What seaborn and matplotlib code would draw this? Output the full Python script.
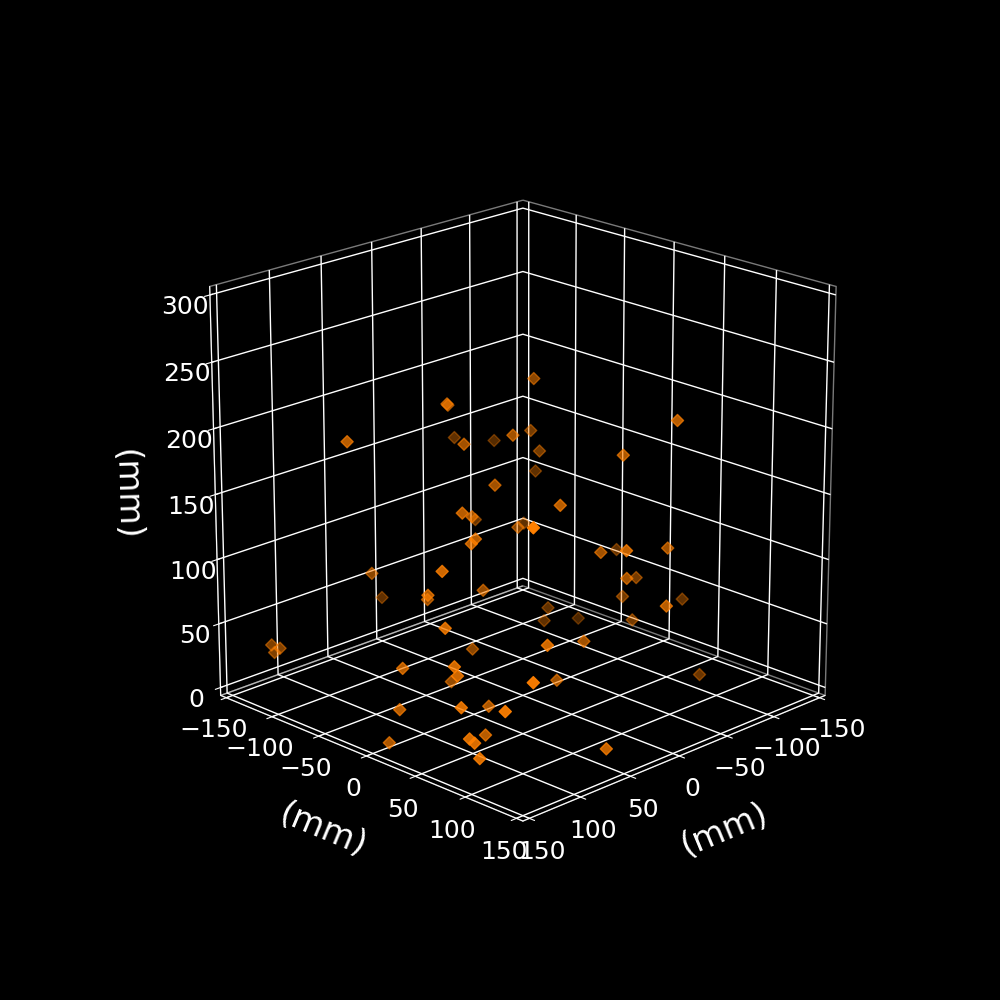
import matplotlib
matplotlib.use("Agg")
import matplotlib.pyplot as plt
import seaborn as sns

sns.set_style("dark")
plt.style.use("dark_background")
plt.rcParams["axes3d.automargin"] = True

# marker positions in mm
x_mm = [-20,51,28,129,-14,49,-46,23,-32,-33,-50,-38,-18,41,34,84,58,0,14,-35,119,82,85,-1,-78,20,-35,96,126,-9,-60,115,84,54,52,-50,-103,-1,-32,-28,-69,-51,134,23,87,58,148,148,148,136,140,136,86,133,43,-88,147,147,92,147,110,147,148,148,148,66]
y_mm = [-9,-25,-48,-45,-85,-10,-76,13,-24,-16,-37,115,82,13,71,24,7,-49,9,-34,129,35,34,77,19,122,110,-57,47,95,56,21,-12,14,-94,52,62,141,-6,-6,-11,61,58,84,111,7,-108,-99,-105,69,21,72,14,143,77,94,25,87,58,130,73,95,101,15,106,148]
z_mm = [231,225,213,211,169,198,161,204,185,171,146,225,196,171,169,164,150,118,131,110,190,147,144,126,92,145,129,100,138,109,85,110,89,95,59,72,58,103,52,43,32,56,101,67,90,49,45,45,40,76,62,70,34,85,41,12,34,54,30,64,18,33,32,6,22,17]

ticks_xy = [-150, -100, -50, 0, 50, 100, 150]
ticks_z = [0, 50, 100, 150, 200, 250, 300]

fig = plt.figure(figsize=(10, 10), dpi=100)
ax = fig.add_subplot(111, projection="3d")
ax.set_box_aspect((1, 1, 1), zoom=0.95)
ax.view_init(elev=20, azim=45)

ax.scatter(x_mm, y_mm, z_mm, marker="D", s=38, color="#ff8000")

ax.set_xlim(-150, 150)
ax.set_ylim(-150, 150)
ax.set_zlim(0, 300)
ax.set_xticks(ticks_xy)
ax.set_yticks(ticks_xy)
ax.set_zticks(ticks_z)
ax.tick_params(labelsize=18)

for axis in [ax.xaxis, ax.yaxis, ax.zaxis]:
    axis.set_rotate_label(True)
    axis.pane.fill = False
    axis.pane.set_edgecolor((0.95, 0.95, 0.95, 0.5))
    axis._axinfo["grid"]["linewidth"] = 1.0

ax.set_xlabel("(mm)", fontsize=24, labelpad=19)
ax.set_ylabel("(mm)", fontsize=24, labelpad=19)
ax.set_zlabel("(mm)", fontsize=24, labelpad=21)

fig.savefig("out.png", facecolor="black")
